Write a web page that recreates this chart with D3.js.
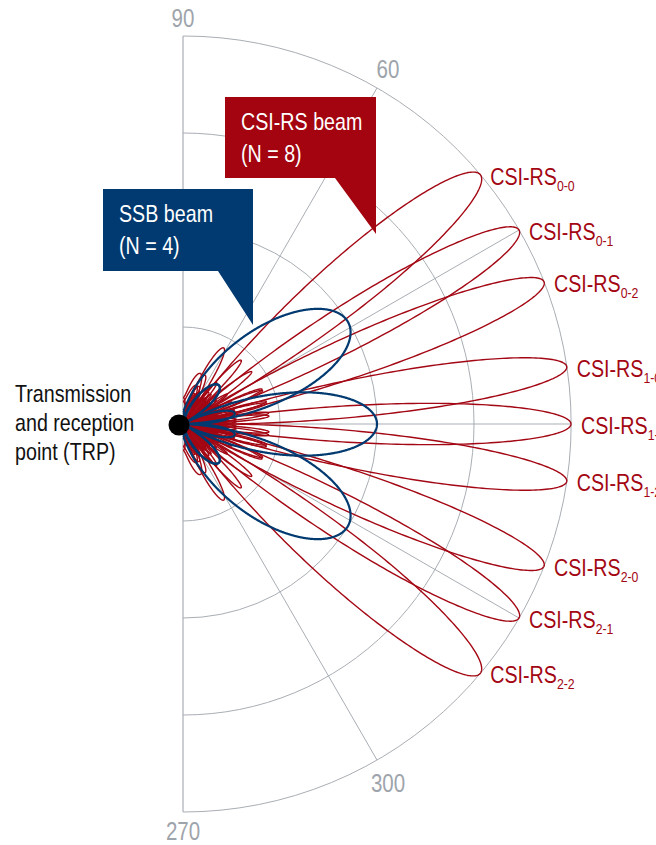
<!DOCTYPE html>
<html>
<head>
<meta charset="utf-8">
<script src="https://cdn.jsdelivr.net/npm/d3@7"></script>
<style>
  body { margin: 0; background: #fff; }
  svg { display: block; font-family: "Liberation Sans", Arial, sans-serif; }
</style>
</head>
<body>
<div id="chart"></div>
<script>
// beam data (angles in degrees, gain relative to outer ring)
const csiNames = ['0-0', '0-1', '0-2', '1-0', '1-1', '1-2', '2-0', '2-1', '2-2'];
const csiAngles = [40, 30, 21.5, 8.5, 0, -8.5, -21.5, -30, -40];
const csiGains = [1, 1, 1, 1, 1, 1, 1, 1, 1];
const csiElements = 12;

const ssbAngles = [32, 0, -32];
const ssbGains = [0.5, 0.5, 0.5];
const ssbElements = 4;

const gridRings = [0.25, 0.5, 0.75, 1];
const spokeAngles = [60, 30, 0, -30, -60];
const angleLabels = ['90', '60', '300', '270'];
const angleLabelPos = [90, 60, -60, -90];

const W = 656, H = 845;
const cx = 183, cy = 424, R = 388;
const red = '#a30713', blue = '#003a70', grid = '#a9aeb4';
const narrow = 0.82; // squeeze Liberation Sans to a narrow face

const svg = d3.select('#chart').append('svg')
    .attr('width', W)
    .attr('height', H);

// text placed at x,y and squeezed horizontally
function ntext(parent, x, y, size, color, anchor) {
  return parent.append('g')
      .attr('transform', `translate(${x},${y}) scale(${narrow},1)`)
    .append('text')
      .attr('fill', color)
      .attr('text-anchor', anchor || 'start')
      .style('font-size', size + 'px');
}

const g = svg.append('g').attr('transform', `translate(${cx},${cy})`);

const r = d3.scaleLinear().domain([0, 1]).range([0, R]);
// degrees (ccw from +x) -> d3 radial angle (cw from top)
const a = d3.scaleLinear().domain([-90, 90]).range([Math.PI, 0]);
const pt = (deg, v) => [Math.sin(a(deg)) * r(v), -Math.cos(a(deg)) * r(v)];

// grid
gridRings.forEach(v => {
  const p = d3.path();
  p.arc(0, 0, r(v), -Math.PI / 2, Math.PI / 2);
  g.append('path').attr('d', p.toString())
      .attr('fill', 'none').attr('stroke', grid).attr('stroke-width', 1);
});
g.append('line')
    .attr('x1', 0).attr('y1', -r(1)).attr('x2', 0).attr('y2', r(1))
    .attr('stroke', grid).attr('stroke-width', 1.2);
spokeAngles.forEach(d => {
  const [x, y] = pt(d, 1);
  g.append('line').attr('x1', 0).attr('y1', 0).attr('x2', x).attr('y2', y)
      .attr('stroke', grid).attr('stroke-width', 1);
});

const labelOffset = { '90': [0, -9], '60': [11, -10], '300': [11, 32], '270': [0, 28] };
angleLabels.forEach((t, i) => {
  const [x, y] = pt(angleLabelPos[i], 1);
  const off = labelOffset[t];
  ntext(g, x + off[0], y + off[1], 25, '#9ea4ab', 'middle').text(t);
});

// uniform linear array, half-wavelength spacing
function arrayFactor(deg, steer, n) {
  const psi = Math.PI * (Math.sin(deg * Math.PI / 180) - Math.sin(steer * Math.PI / 180));
  const den = n * Math.sin(psi / 2);
  if (Math.abs(den) < 1e-9) return 1;
  return Math.abs(Math.sin(n * psi / 2) / den);
}

const sweep = d3.range(-90, 90.001, 0.1);
const radial = d3.lineRadial()
    .angle(d => a(d[0]))
    .radius(d => r(d[1]));

function drawBeam(steer, gain, n, color, width) {
  const pts = sweep.map(d => [d, gain * arrayFactor(d, steer, n)]);
  g.append('path')
      .attr('d', radial(pts))
      .attr('fill', 'none')
      .attr('stroke', color)
      .attr('stroke-width', width)
      .attr('stroke-linejoin', 'round');
}

csiAngles.forEach((s, i) => drawBeam(s, csiGains[i], csiElements, red, 1.4));
ssbAngles.forEach((s, i) => drawBeam(s, ssbGains[i], ssbElements, blue, 2.2));

// TRP dot
g.append('circle').attr('cx', -4).attr('cy', 1).attr('r', 10.5).attr('fill', '#000');

// beam labels
csiNames.forEach((nm, i) => {
  const [x, y] = pt(csiAngles[i], csiGains[i]);
  const t = ntext(g, x + 10, y + 10, 24, red);
  t.append('tspan').text('CSI-RS');
  t.append('tspan').attr('dy', 6).style('font-size', '15px').text(nm);
});

// TRP label
const trp = ntext(svg, 15, 402, 24, '#111');
['Transmission', 'and reception', 'point (TRP)'].forEach((s, i) => {
  trp.append('tspan').attr('x', 0).attr('dy', i ? 29 : 0).text(s);
});

// callouts
function callout(x0, y0, x1, y1, px, tipY, color, lines) {
  svg.append('path')
      .attr('d', `M${x0},${y0}H${x1}V${tipY}L${px},${y1}H${x0}Z`)
      .attr('fill', color);
  const t = ntext(svg, x0 + 16, y0, 24, '#fff');
  lines.forEach((s, i) => {
    t.append('tspan').attr('x', 0).attr('y', 33 + i * 32).text(s);
  });
}
callout(225, 97, 376, 178, 335, 234, '#a3040f', ['CSI-RS beam', '(N = 8)']);
callout(103, 189, 253, 271, 218, 325, blue, ['SSB beam', '(N = 4)']);
</script>
</body>
</html>
